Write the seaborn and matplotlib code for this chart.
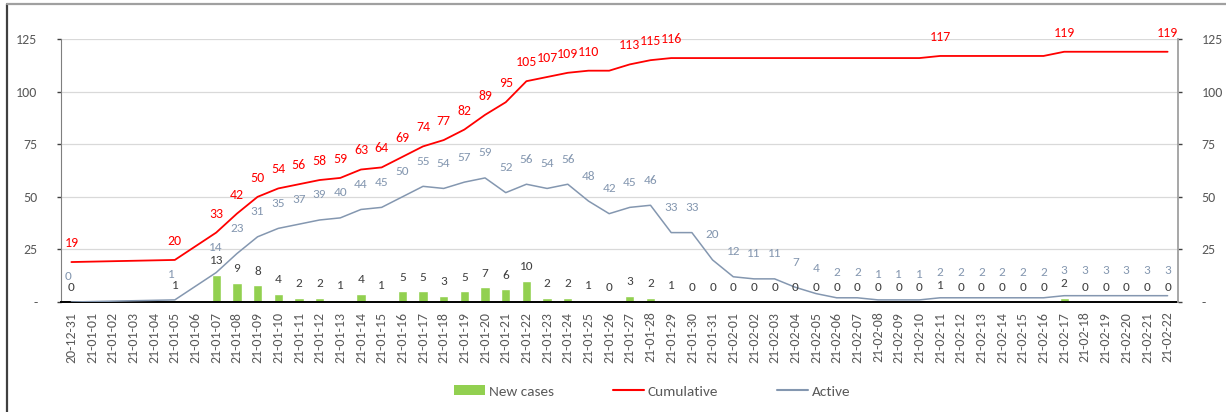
import numpy as np
import pandas as pd
import matplotlib
matplotlib.use("Agg")
import matplotlib.pyplot as plt
import seaborn as sns
from matplotlib.lines import Line2D
from matplotlib.patches import Patch

dates = ['20-12-31',
         '21-01-01', '21-01-02', '21-01-03', '21-01-04', '21-01-05', '21-01-06', '21-01-07', '21-01-08',
         '21-01-09', '21-01-10', '21-01-11', '21-01-12', '21-01-13', '21-01-14', '21-01-15', '21-01-16',
         '21-01-17', '21-01-18', '21-01-19', '21-01-20', '21-01-21', '21-01-22', '21-01-23', '21-01-24',
         '21-01-25', '21-01-26', '21-01-27', '21-01-28', '21-01-29', '21-01-30', '21-01-31',
         '21-02-01', '21-02-02', '21-02-03', '21-02-04', '21-02-05', '21-02-06', '21-02-07', '21-02-08',
         '21-02-09', '21-02-10', '21-02-11', '21-02-12', '21-02-13', '21-02-14', '21-02-15', '21-02-16',
         '21-02-17', '21-02-18', '21-02-19', '21-02-20', '21-02-21', '21-02-22']

N = np.nan
new_cases = [0, N, N, N, N, 1, N, 13, 9, 8, 4, 2, 2, 1, 4, 1, 5, 5, 3, 5, 7, 6, 10, 2, 2, 1, 0,
             3, 2, 1, 0, 0, 0, 0, 0, 0, 0, 0, 0, 0, 0, 0, 1, 0, 0, 0, 0, 0, 2, 0, 0, 0, 0, 0]
cumulative = [19, N, N, N, N, 20, N, 33, 42, 50, 54, 56, 58, 59, 63, 64, 69, 74, 77, 82, 89, 95,
              105, 107, 109, 110, 110, 113, 115, 116, 116, 116, 116, 116, 116, 116, 116, 116, 116,
              116, 116, 116, 117, 117, 117, 117, 117, 117, 119, 119, 119, 119, 119, 119]
active = [0, N, N, N, N, 1, N, 14, 23, 31, 35, 37, 39, 40, 44, 45, 50, 55, 54, 57, 59, 52, 56, 54,
          56, 48, 42, 45, 46, 33, 33, 20, 12, 11, 11, 7, 4, 2, 2, 1, 1, 1, 2, 2, 2, 2, 2, 2,
          3, 3, 3, 3, 3, 3]

GREEN = '#92D050'
RED = '#FF0000'
BLUEGRAY = '#8497B0'
TXT = '#595959'

sns.set_style('white')
plt.rcParams['font.family'] = ['Carlito', 'DejaVu Sans']

df = pd.DataFrame({'date': dates, 'pos': np.arange(len(dates)),
                   'new': new_cases, 'cum': cumulative, 'act': active})

fig = plt.figure(figsize=(12.26, 4.12), dpi=100)
ax = fig.add_axes([0.0498, 0.267, 0.911, 0.638])

sns.barplot(data=df.dropna(subset=['new']), x='date', y='new', order=dates,
            color=GREEN, saturation=1, width=0.45, ax=ax, zorder=2)
sns.lineplot(data=df.dropna(subset=['cum']), x='pos', y='cum', color=RED, lw=1.3, ax=ax, zorder=3)
sns.lineplot(data=df.dropna(subset=['act']), x='pos', y='act', color=BLUEGRAY, lw=1.1, ax=ax, zorder=3)

ax.set_xlim(-0.5, len(dates) - 0.5)
ax.set_ylim(0, 125)
yt = [0, 25, 50, 75, 100, 125]
ylab = ['-' if v == 0 else str(v) for v in yt]
ax.set_yticks(yt, ylab)
ax.set_xticks(range(len(dates)), dates, rotation=90)
ax.set_xticks(np.arange(-0.5, len(dates)), minor=True)
ax.tick_params(axis='x', which='major', length=0, pad=7, labelsize=10, labelcolor=TXT)
ax.tick_params(axis='x', which='minor', length=4, width=1, color='#000000', direction='out')
ax.tick_params(axis='y', length=3, width=1, color='#404040', pad=14, labelsize=10, labelcolor=TXT)
ax.set_xlabel('')
ax.set_ylabel('')
ax.grid(axis='y', color='#D9D9D9', lw=0.9, zorder=0)
ax.set_axisbelow(True)
for s in ['top', 'right']:
    ax.spines[s].set_visible(False)
ax.spines['left'].set_color('#7F7F7F')
ax.spines['bottom'].set_color('#000000')
ax.spines['bottom'].set_linewidth(1.4)

ax2 = ax.twinx()
ax2.set_ylim(0, 125)
ax2.set_yticks(yt, ylab)
ax2.tick_params(axis='y', length=3, width=1, color='#404040', pad=14, labelsize=10, labelcolor=TXT)
for s in ['top', 'left', 'bottom']:
    ax2.spines[s].set_visible(False)
ax2.spines['right'].set_color('#A0A0A0')
ax2.spines['right'].set_linewidth(1.3)

# data labels
last = len(dates) - 1
for i in range(len(dates)):
    n, c, a = new_cases[i], cumulative[i], active[i]
    if not np.isnan(n):
        ax.annotate(str(int(n)), (i, n), xytext=(0, 10.2), textcoords='offset points',
                    ha='center', va='center', fontsize=9.5, color='#404040')
    if not np.isnan(a):
        # labels near the bars sit a bit left, like in the original
        dx = -2.5 if a <= 1 and i < 10 else 0
        ax.annotate(str(int(a)), (i, a), xytext=(dx, 18), textcoords='offset points',
                    ha='center', va='center', fontsize=9.5, color=BLUEGRAY)
    if not np.isnan(c) and (i == 0 or i == last or n > 0):
        ax.annotate(str(int(c)), (i, c), xytext=(0, 13.7), textcoords='offset points',
                    ha='center', va='center', fontsize=10, color=RED)

handles = [Patch(facecolor=GREEN, edgecolor='none'),
           Line2D([], [], color=RED, lw=1.5),
           Line2D([], [], color=BLUEGRAY, lw=1.5)]
fig.legend(handles, ['New cases', 'Cumulative', 'Active'], loc='center',
           bbox_to_anchor=(0.532, 0.05), ncol=3, frameon=False, fontsize=11,
           handlelength=2.0, handleheight=0.6, handletextpad=0.25, columnspacing=3.9,
           labelcolor=TXT)

# chart frame
fig.add_artist(Line2D([7 / 1226, 7 / 1226], [0, 1 - 4 / 412], color='#404040', lw=1.6,
                      transform=fig.transFigure))
fig.add_artist(Line2D([7 / 1226, 1], [1 - 4 / 412, 1 - 4 / 412], color='#A0A0A0', lw=1.6,
                      transform=fig.transFigure))

fig.savefig('out.png', dpi=100)
